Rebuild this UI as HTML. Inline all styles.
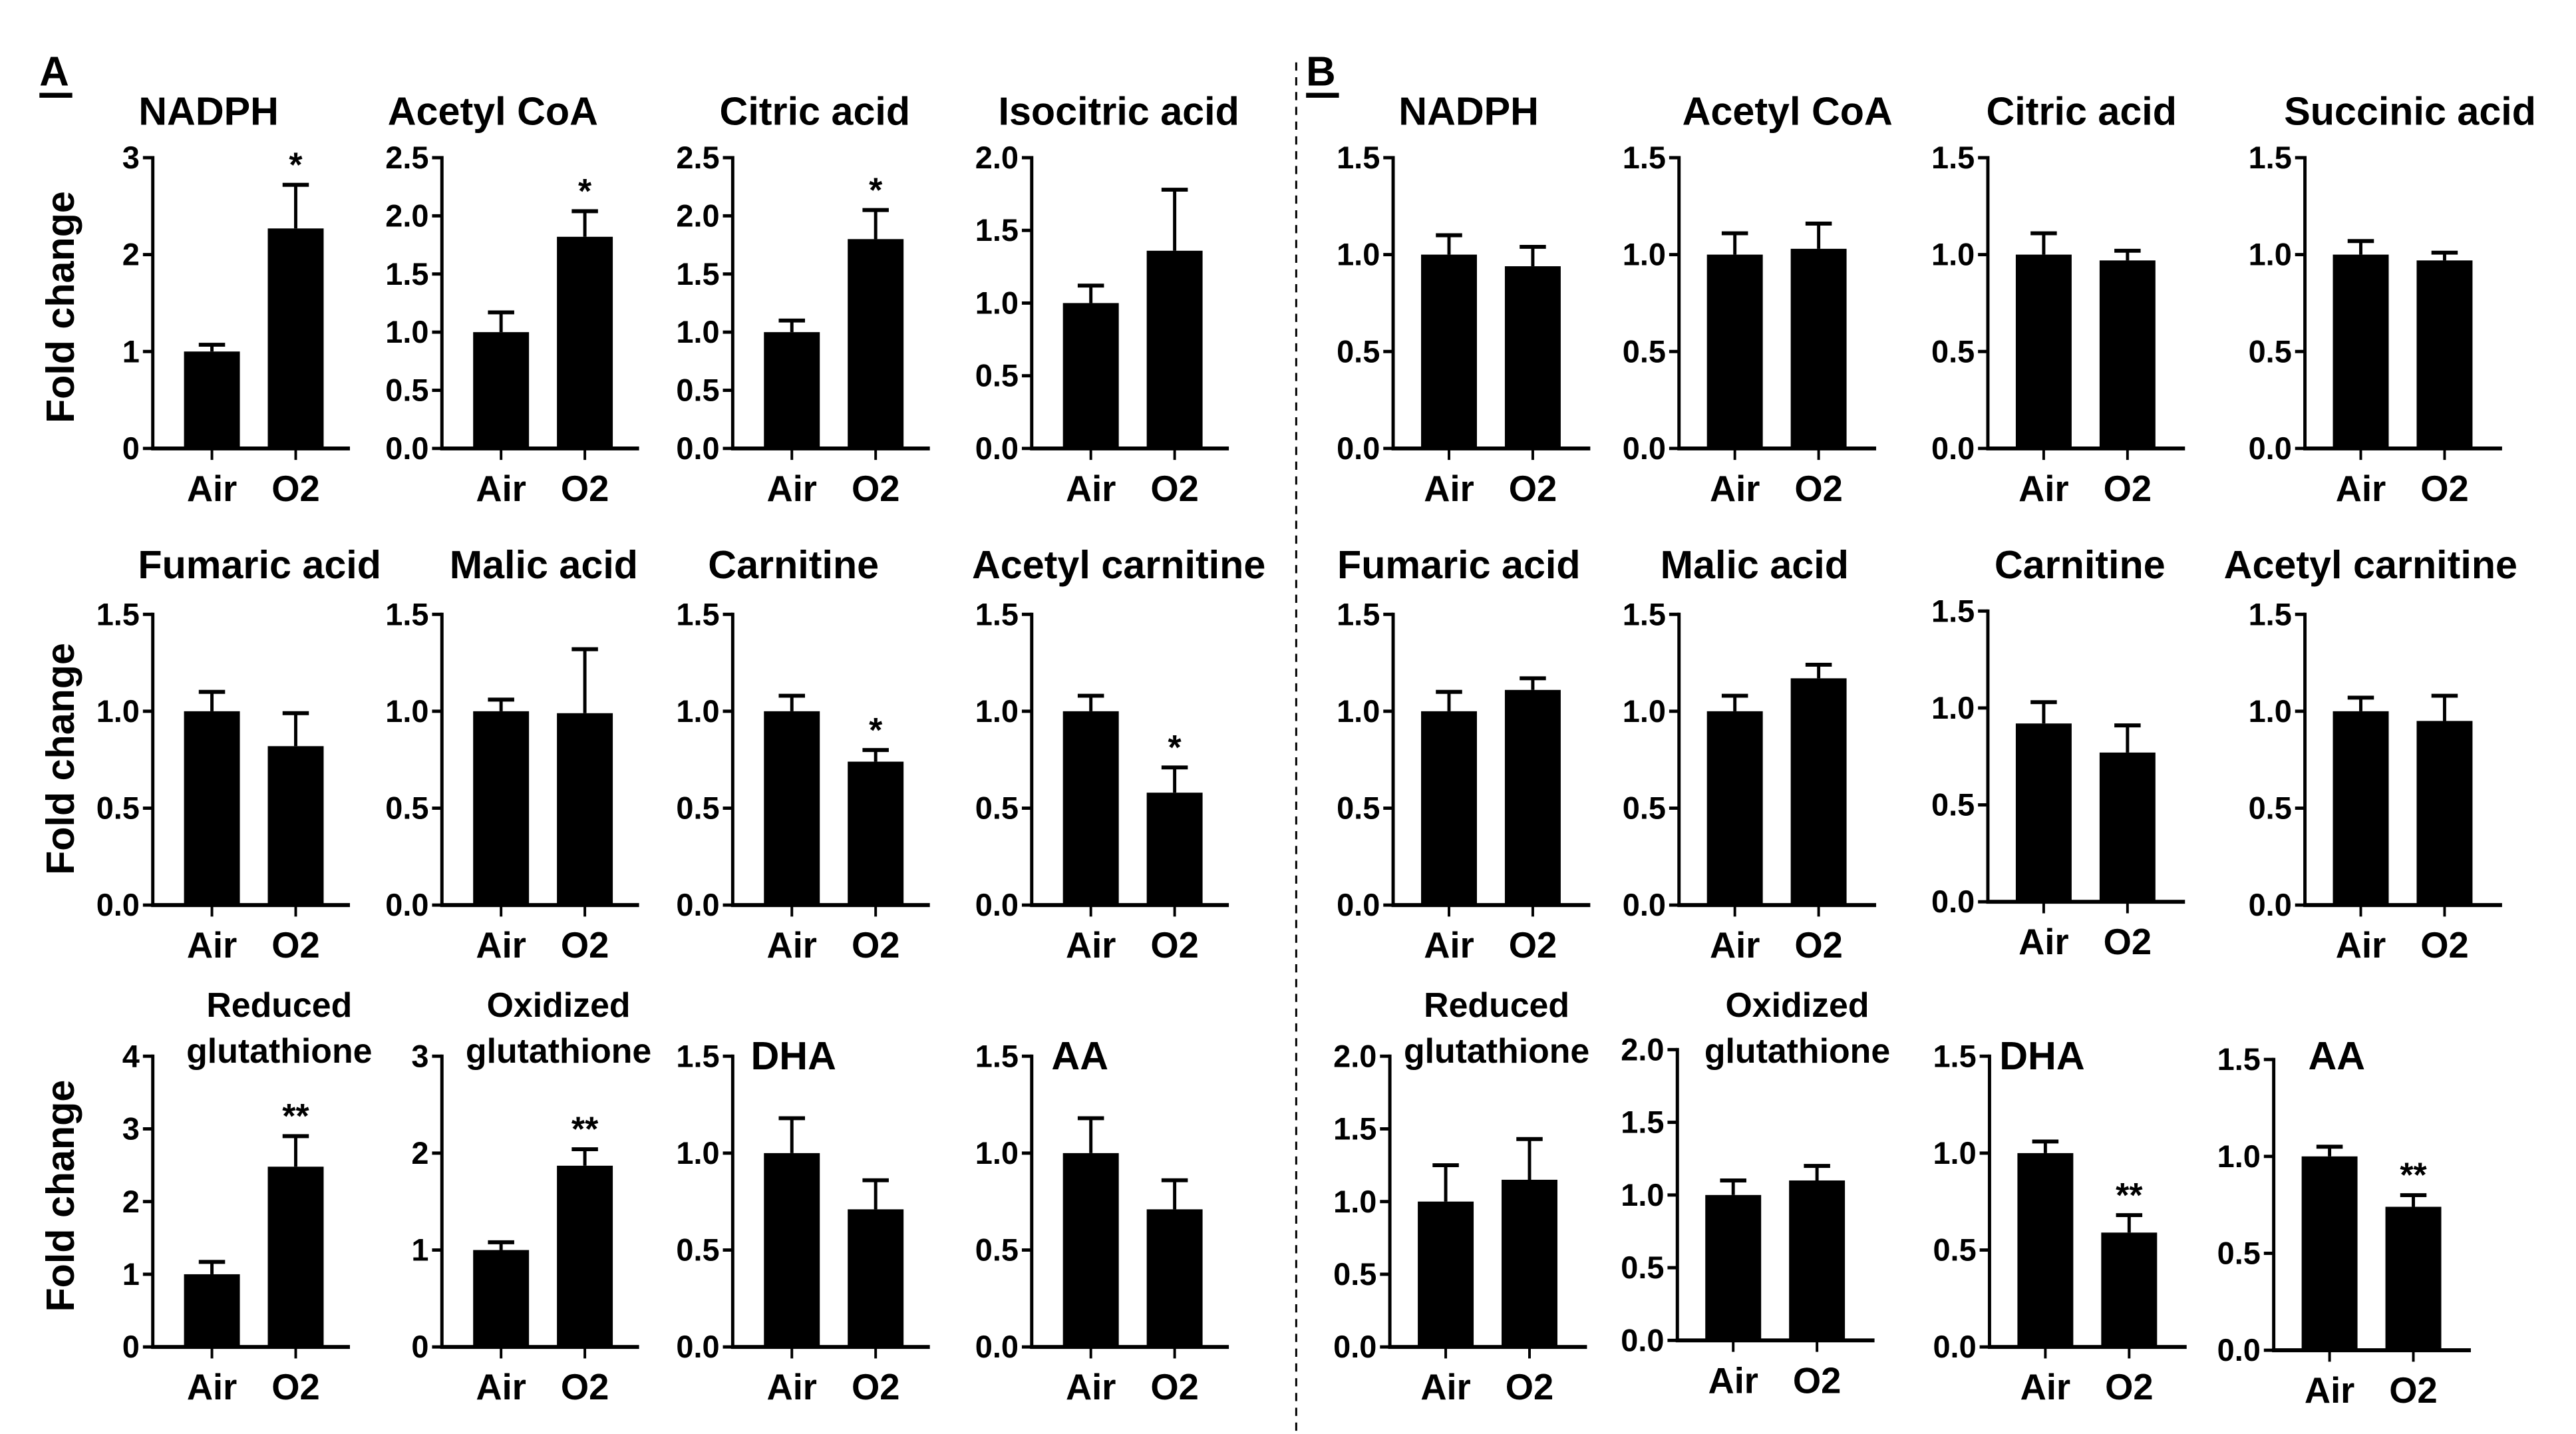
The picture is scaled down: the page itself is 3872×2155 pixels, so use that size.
<!DOCTYPE html>
<html><head><meta charset="utf-8"><style>
html,body{margin:0;padding:0;background:#fff}
svg{display:block}
text{font-family:"Liberation Sans",Arial,sans-serif;font-weight:bold;fill:#000}
</style></head><body>
<svg id="fig" width="3872" height="2155" viewBox="0 0 1568 873" preserveAspectRatio="none" xmlns="http://www.w3.org/2000/svg"></svg>
<script>
const categories = ["Air","O2"];
const titles = ["NADPH","Acetyl CoA","Citric acid","Isocitric acid","Fumaric acid","Malic acid","Carnitine","Acetyl carnitine","Reduced|glutathione","Oxidized|glutathione","DHA","AA",
"NADPH","Acetyl CoA","Citric acid","Succinic acid","Fumaric acid","Malic acid","Carnitine","Acetyl carnitine","Reduced|glutathione","Oxidized|glutathione","DHA","AA"];
const airValues = [1,1,1,1, 1,1,1,1, 1,1,1,1, 1,1,1,1, 1,1,0.92,1, 1,1,1,1];
const o2Values = [2.27,1.82,1.8,1.36, 0.82,0.99,0.74,0.58, 2.48,1.87,0.71,0.71, 0.94,1.03,0.97,0.97, 1.11,1.17,0.77,0.95, 1.15,1.1,0.59,0.74];
const airErr = [0.07,0.17,0.1,0.12, 0.1,0.06,0.08,0.08, 0.17,0.08,0.18,0.18, 0.1,0.11,0.11,0.07, 0.1,0.08,0.11,0.07, 0.25,0.1,0.06,0.05];
const o2Err = [0.45,0.22,0.25,0.42, 0.17,0.33,0.06,0.13, 0.42,0.17,0.15,0.15, 0.1,0.13,0.05,0.04, 0.06,0.07,0.14,0.13, 0.28,0.1,0.09,0.06];
const significance = ["*","*","*","", "","","*","*", "**","**","","", "","","","", "","","","", "","","**","**"];
const yMax = [3,2.5,2.5,2, 1.5,1.5,1.5,1.5, 4,3,1.5,1.5, 1.5,1.5,1.5,1.5, 1.5,1.5,1.5,1.5, 2,2,1.5,1.5];
const yStep = [1,0.5,0.5,0.5, 0.5,0.5,0.5,0.5, 1,1,0.5,0.5, 0.5,0.5,0.5,0.5, 0.5,0.5,0.5,0.5, 0.5,0.5,0.5,0.5];

const NS="http://www.w3.org/2000/svg";
const svg=document.getElementById('fig');
function el(tag,attrs,parent){const e=document.createElementNS(NS,tag);for(const k in attrs)e.setAttribute(k,attrs[k]);(parent||svg).appendChild(e);return e;}
function txt(s,attrs,parent){const t=el('text',attrs,parent);t.textContent=s;return t;}

const axisXs=[93,269,446,628,848,1022,1210,1403];
const axisXsB3=[846,1021,1211,1384];
const rowY0=[[273,551,820],[273,551,820],[273,551,820],[273,551,820],[273,551,820],[273,551,816],[273,549,820],[273,551,822]];
const titleX=[127,300,496,681,894,1088,1267,1467];
const titleX2=[158,331,483,681,888,1068,1266,1443];

for(let i=0;i<24;i++){
  const panelB=i>=12, k=i%12, row=Math.floor(k/4), col=k%4+(panelB?4:0);
  const ax=(panelB&&row===2)?axisXsB3[k%4]:axisXs[col], y0=rowY0[col][row], yTop=y0-177;
  const off=panelB?17:19;
  const g=el('g',{});
  
  
  const ys=v=>y0-(v/yMax[i])*(y0-yTop);
  const xs=j=>ax+off+j*51;
  const parts=titles[i].split('|');
  if(parts.length===2){
    const cx=(col===0?170:col===1?340:col===4?911:1094);
    const t1=txt(parts[0],{x:cx,y:619,'text-anchor':'middle','font-size':21},g);
    
    const t2=txt(parts[1],{x:cx,y:647,'text-anchor':'middle','font-size':21},g);
    
  } else if(parts[0]==='DHA'||parts[0]==='AA'){
    const tx=panelB?(parts[0]==='DHA'?1217:1405):(parts[0]==='DHA'?457:640);
    const t=txt(parts[0],{x:tx,y:651,'font-size':24},g);
    
  } else {
    const cx=row===0?titleX[col]:titleX2[col];
    const t=txt(parts[0],{x:cx,y:row===0?76:352,'text-anchor':'middle','font-size':24},g);
    
  }
  const ya=el('line',{x1:ax,y1:yTop-1,x2:ax,y2:y0+1,stroke:'#000','stroke-width':2},g);
  
  const xa=el('line',{x1:ax-1,y1:y0,x2:ax+120,y2:y0,stroke:'#000','stroke-width':2.4},g);
  
  const n=Math.round(yMax[i]/yStep[i]);
  for(let t=0;t<=n;t++){
    const v=t*yStep[i], y=ys(v);
    el('line',{x1:ax-6,y1:y,x2:ax,y2:y,stroke:'#000','stroke-width':2},g);
    const lab=txt(yStep[i]%1===0?String(v):v.toFixed(1),{x:ax-8,y:y+6.5,'text-anchor':'end','font-size':19},g);
    
  }
  const vals=[airValues[i],o2Values[i]], errs=[airErr[i],o2Err[i]];
  for(let j=0;j<2;j++){
    const x=xs(j), cx=x+17;
    const top=ys(vals[j]), et=ys(vals[j]+errs[j]);
    const eb=el('line',{x1:cx,y1:top,x2:cx,y2:et,stroke:'#000','stroke-width':2},g);
    
    el('line',{x1:cx-8,y1:et,x2:cx+8,y2:et,stroke:'#000','stroke-width':2.4},g);
    const b=el('rect',{x:x,y:top,width:34,height:y0-top,fill:'#000'},g);
    
    el('line',{x1:cx,y1:y0,x2:cx,y2:y0+7,stroke:'#000','stroke-width':1.6},g);
    const cl=txt(categories[j],{x:cx,y:y0+32,'text-anchor':'middle','font-size':22},g);
    
    if(j===1&&significance[i]){
      const s=txt(significance[i],{x:cx,y:et-5,'text-anchor':'middle','font-size':21},g);
      
    }
  }
}
[187,462,728].forEach(cy=>{
  const t=txt('Fold change',{x:0,y:0,'text-anchor':'middle','font-size':24,transform:`translate(45,${cy}) rotate(-90)`});
  
  
});
const la=txt('A',{x:24,y:52,'font-size':25});


el('line',{x1:24,y1:58,x2:44,y2:58,stroke:'#000','stroke-width':3});
const lb=txt('B',{x:795,y:52,'font-size':25});


el('line',{x1:795,y1:58,x2:815,y2:58,stroke:'#000','stroke-width':3});
const dv=el('line',{x1:789,y1:38,x2:789,y2:873,stroke:'#000','stroke-width':1.2,'stroke-dasharray':'5,4'});


</script>
</body></html>
